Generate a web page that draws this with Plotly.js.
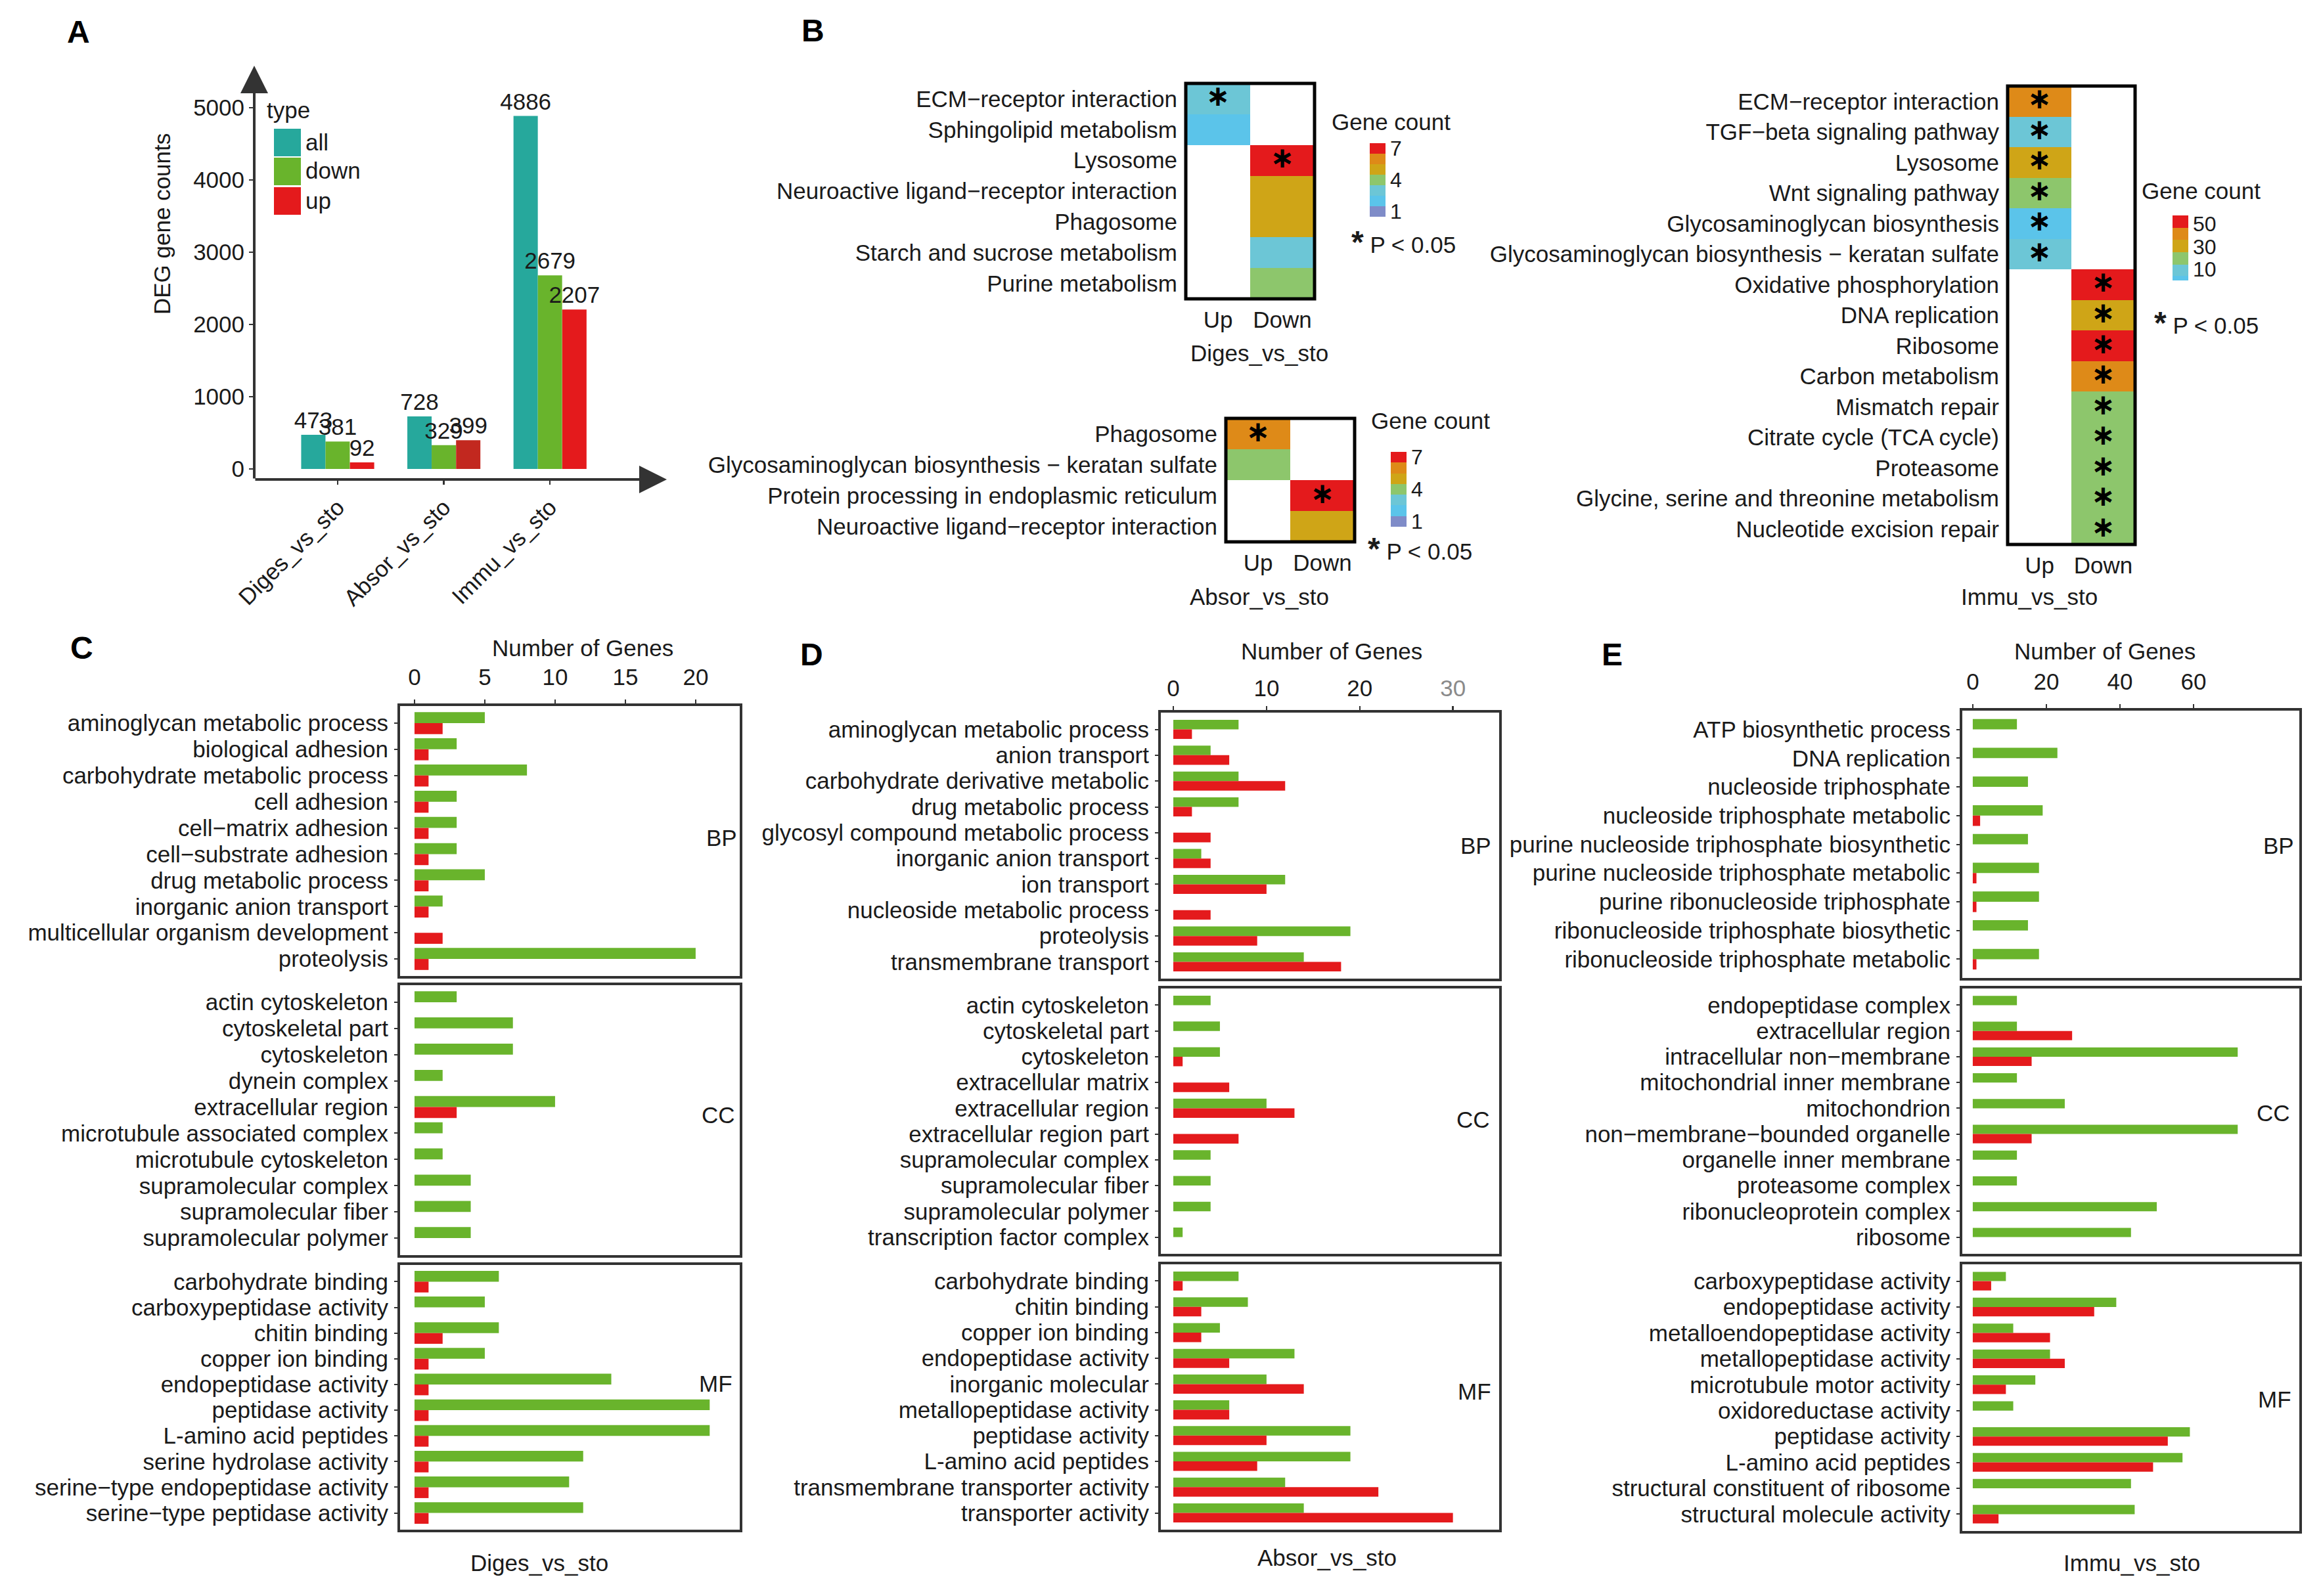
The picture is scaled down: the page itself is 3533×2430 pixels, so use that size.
<!DOCTYPE html>
<html><head><meta charset="utf-8">
<script src="https://cdn.plot.ly/plotly-3.0.1.min.js"></script>
<style>html,body{margin:0;padding:0;background:#fff}</style>
</head><body><div id="chart" style="width:3533px;height:2430px"></div>
<script>
// ================= DATA =================
// Panel A: DEG counts
const comparisons = ['Diges_vs_sto', 'Absor_vs_sto', 'Immu_vs_sto'];
const degAll  = [473, 728, 4886];
const degDown = [381, 329, 2679];
const degUp   = [92, 399, 2207];
const degTypes = ['all', 'down', 'up'];

// Panel B: KEGG heatmaps (gene counts, null = not enriched)
const heatCols = ['Up', 'Down'];
const keggDigesTerms = ['ECM\u2212receptor interaction', 'Sphingolipid metabolism', 'Lysosome',
  'Neuroactive ligand\u2212receptor interaction', 'Phagosome', 'Starch and sucrose metabolism', 'Purine metabolism'];
const keggDigesUp      = [3, 2, null, null, null, null, null];
const keggDigesDown    = [null, null, 7, 5, 5, 3, 4];
const keggDigesUpSig   = [1, 0, 0, 0, 0, 0, 0];
const keggDigesDownSig = [0, 0, 1, 0, 0, 0, 0];

const keggAbsorTerms = ['Phagosome', 'Glycosaminoglycan biosynthesis \u2212 keratan sulfate',
  'Protein processing in endoplasmic reticulum', 'Neuroactive ligand\u2212receptor interaction'];
const keggAbsorUp      = [6, 4, null, null];
const keggAbsorDown    = [null, null, 7, 5];
const keggAbsorUpSig   = [1, 0, 0, 0];
const keggAbsorDownSig = [0, 0, 1, 0];

const keggImmuTerms = ['ECM\u2212receptor interaction', 'TGF\u2212beta signaling pathway', 'Lysosome',
  'Wnt signaling pathway', 'Glycosaminoglycan biosynthesis', 'Glycosaminoglycan biosynthesis \u2212 keratan sulfate',
  'Oxidative phosphorylation', 'DNA replication', 'Ribosome', 'Carbon metabolism', 'Mismatch repair',
  'Citrate cycle (TCA cycle)', 'Proteasome', 'Glycine, serine and threonine metabolism', 'Nucleotide excision repair'];
const keggImmuUp      = [40, 10, 30, 20, 2, 9, null, null, null, null, null, null, null, null, null];
const keggImmuDown    = [null, null, null, null, null, null, 52, 30, 55, 40, 18, 20, 20, 16, 18];
const keggImmuUpSig   = [1, 1, 1, 1, 1, 1, 0, 0, 0, 0, 0, 0, 0, 0, 0];
const keggImmuDownSig = [0, 0, 0, 0, 0, 0, 1, 1, 1, 1, 1, 1, 1, 1, 1];

// Panel C: GO Diges_vs_sto
const goDigesBPTerms = ['aminoglycan metabolic process', 'biological adhesion', 'carbohydrate metabolic process',
  'cell adhesion', 'cell\u2212matrix adhesion', 'cell\u2212substrate adhesion', 'drug metabolic process',
  'inorganic anion transport', 'multicellular organism development', 'proteolysis'];
const goDigesBPDown = [5, 3, 8, 3, 3, 3, 5, 2, 0, 20];
const goDigesBPUp   = [2, 1, 1, 1, 1, 1, 1, 1, 2, 1];
const goDigesCCTerms = ['actin cytoskeleton', 'cytoskeletal part', 'cytoskeleton', 'dynein complex',
  'extracellular region', 'microtubule associated complex', 'microtubule cytoskeleton',
  'supramolecular complex', 'supramolecular fiber', 'supramolecular polymer'];
const goDigesCCDown = [3, 7, 7, 2, 10, 2, 2, 4, 4, 4];
const goDigesCCUp   = [0, 0, 0, 0, 3, 0, 0, 0, 0, 0];
const goDigesMFTerms = ['carbohydrate binding', 'carboxypeptidase activity', 'chitin binding', 'copper ion binding',
  'endopeptidase activity', 'peptidase activity', 'L-amino acid peptides', 'serine hydrolase activity',
  'serine\u2212type endopeptidase activity', 'serine\u2212type peptidase activity'];
const goDigesMFDown = [6, 5, 6, 5, 14, 21, 21, 12, 11, 12];
const goDigesMFUp   = [1, 0, 2, 1, 1, 1, 1, 1, 1, 1];
const goDigesTicks = [0, 5, 10, 15, 20];

// Panel D: GO Absor_vs_sto
const goAbsorBPTerms = ['aminoglycan metabolic process', 'anion transport', 'carbohydrate derivative metabolic',
  'drug metabolic process', 'glycosyl compound metabolic process', 'inorganic anion transport', 'ion transport',
  'nucleoside metabolic process', 'proteolysis', 'transmembrane transport'];
const goAbsorBPDown = [7, 4, 7, 7, 0, 3, 12, 0, 19, 14];
const goAbsorBPUp   = [2, 6, 12, 2, 4, 4, 10, 4, 9, 18];
const goAbsorCCTerms = ['actin cytoskeleton', 'cytoskeletal part', 'cytoskeleton', 'extracellular matrix',
  'extracellular region', 'extracellular region part', 'supramolecular complex', 'supramolecular fiber',
  'supramolecular polymer', 'transcription factor complex'];
const goAbsorCCDown = [4, 5, 5, 0, 10, 0, 4, 4, 4, 1];
const goAbsorCCUp   = [0, 0, 1, 6, 13, 7, 0, 0, 0, 0];
const goAbsorMFTerms = ['carbohydrate binding', 'chitin binding', 'copper ion binding', 'endopeptidase activity',
  'inorganic molecular', 'metallopeptidase activity', 'peptidase activity', 'L-amino acid peptides',
  'transmembrane transporter activity', 'transporter activity'];
const goAbsorMFDown = [7, 8, 5, 13, 10, 6, 19, 19, 12, 14];
const goAbsorMFUp   = [1, 3, 3, 6, 14, 6, 10, 9, 22, 30];
const goAbsorTicks = [0, 10, 20, 30];

// Panel E: GO Immu_vs_sto
const goImmuBPTerms = ['ATP biosynthetic process', 'DNA replication', 'nucleoside triphosphate',
  'nucleoside triphosphate metabolic', 'purine nucleoside triphosphate biosynthetic',
  'purine nucleoside triphosphate metabolic', 'purine ribonucleoside triphosphate',
  'ribonucleoside triphosphate biosythetic', 'ribonucleoside triphosphate metabolic'];
const goImmuBPDown = [12, 23, 15, 19, 15, 18, 18, 15, 18];
const goImmuBPUp   = [0, 0, 0, 2, 0, 1, 1, 0, 1];
const goImmuCCTerms = ['endopeptidase complex', 'extracellular region', 'intracellular non\u2212membrane',
  'mitochondrial inner membrane', 'mitochondrion', 'non\u2212membrane\u2212bounded organelle',
  'organelle inner membrane', 'proteasome complex', 'ribonucleoprotein complex', 'ribosome'];
const goImmuCCDown = [12, 12, 72, 12, 25, 72, 12, 12, 50, 43];
const goImmuCCUp   = [0, 27, 16, 0, 0, 16, 0, 0, 0, 0];
const goImmuMFTerms = ['carboxypeptidase activity', 'endopeptidase activity', 'metalloendopeptidase activity',
  'metallopeptidase activity', 'microtubule motor activity', 'oxidoreductase activity', 'peptidase activity',
  'L-amino acid peptides', 'structural constituent of ribosome', 'structural molecule activity'];
const goImmuMFDown = [9, 39, 11, 21, 17, 11, 59, 57, 43, 44];
const goImmuMFUp   = [5, 33, 21, 25, 9, 0, 53, 49, 0, 7];
const goImmuTicks = [0, 20, 40, 60];

// ================= STYLE / LAYOUT HELPERS =================
const W = 3533, H = 2430;
const X = p => p / W;
const Y = p => 1 - p / H;
const xd = (a, b) => [X(a), X(b)];
const yd = (top, bot) => [Y(bot), Y(top)];
const FONT = 'Liberation Sans, Arial, Helvetica, sans-serif';
const TXT = '#1a1a1a';
const AX = '#333333';
const TEAL = '#26A89C', GREEN = '#69B42C', RED = '#E41A1C', DARKRED = '#C2281F';
const FS = 35;

const traces = [];
const layout = {
  width: W, height: H, autosize: false,
  margin: {l: 0, r: 0, t: 0, b: 0, pad: 0},
  paper_bgcolor: '#ffffff', plot_bgcolor: 'rgba(0,0,0,0)',
  font: {family: FONT, size: FS, color: TXT},
  barmode: 'overlay', showlegend: false,
  annotations: [], shapes: []
};
const ann = (text, x, y, o = {}) => layout.annotations.push(Object.assign({
  text, x: X(x), y: Y(y), xref: 'paper', yref: 'paper', showarrow: false,
  font: {family: FONT, size: FS, color: TXT}, xanchor: 'center', yanchor: 'middle'}, o));

// ---------- Panel A ----------
const aW = 0.229;
const aOff = [-0.344, -0.115, 0.115];
const aVals = [degAll, degDown, degUp];
const aCols = [TEAL, GREEN, [RED, DARKRED, RED]];
aVals.forEach((v, k) => traces.push({
  type: 'bar', name: degTypes[k], x: comparisons, y: v, xaxis: 'x', yaxis: 'y',
  width: aW, offset: aOff[k], marker: {color: aCols[k], line: {width: 0}},
  text: v.map(String), textposition: 'outside', constraintext: 'none', cliponaxis: false,
  textfont: {family: FONT, size: FS, color: TXT}, hoverinfo: 'x+y'
}));
layout.xaxis = {domain: xd(387, 1015), anchor: 'y', type: 'category', categoryarray: comparisons,
  range: [-0.786, 3.10], tickangle: -45, ticks: 'outside', ticklen: 7, tickwidth: 2.5, tickcolor: AX,
  tickfont: {size: FS}, showline: false, showgrid: false, zeroline: false};
layout.yaxis = {domain: yd(100, 730), anchor: 'x', range: [-145, 5582],
  tickvals: [0, 1000, 2000, 3000, 4000, 5000], ticks: 'outside', ticklen: 7, tickwidth: 2.5, tickcolor: AX,
  tickfont: {size: FS}, showline: false, showgrid: false, zeroline: false};
// axis arrows
layout.annotations.push({text: '', xref: 'paper', yref: 'paper', x: X(1015), y: Y(730),
  axref: 'pixel', ayref: 'pixel', ax: -628, ay: 0, showarrow: true, arrowhead: 2, arrowsize: 2.1,
  arrowwidth: 4, arrowcolor: AX, standoff: 0});
layout.annotations.push({text: '', xref: 'paper', yref: 'paper', x: X(387), y: Y(100),
  axref: 'pixel', ayref: 'pixel', ax: 0, ay: 630, showarrow: true, arrowhead: 2, arrowsize: 2.1,
  arrowwidth: 4, arrowcolor: AX, standoff: 0});
ann('DEG gene counts', 246, 341, {textangle: -90});
// legend
ann('type', 404, 167, {xanchor: 'left'});
const legTop = [196, 240, 285];
const legFill = [TEAL, GREEN, RED];
degTypes.forEach((t, k) => {
  layout.shapes.push({type: 'rect', xref: 'paper', yref: 'paper', x0: X(417), x1: X(458),
    y0: Y(legTop[k] + 42), y1: Y(legTop[k]), fillcolor: legFill[k], line: {width: 0}});
  ann(t, 463, legTop[k] + 20, {xanchor: 'left'});
});

// ---------- Panel B heatmaps ----------
function stepScale(bounds, colors) {
  const lo = bounds[0], hi = bounds[bounds.length - 1];
  const s = [];
  colors.forEach((c, i) => {
    s.push([(bounds[i] - lo) / (hi - lo), c]);
    s.push([(bounds[i + 1] - lo) / (hi - lo), c]);
  });
  return s;
}
const PURP = '#7F8CC8', SKY = '#5BC4EA', CYAN = '#6CC6D6', LGREEN = '#8DC66C', GOLD = '#CFA517', ORNG = '#DE8A18';
const scale7 = stepScale([0.5, 1.5, 2.5, 3.5, 4.5, 5.5, 6.5, 7.5], [PURP, SKY, CYAN, LGREEN, GOLD, ORNG, RED]);
const scaleImmu = stepScale([0, 4, 14, 25, 36, 46.5, 57.5], [SKY, CYAN, LGREEN, GOLD, ORNG, RED]);

function heatPanel(n, terms, up, down, upSig, downSig, cs, zmin, zmax, cbTicks, box, cb) {
  const xa = 'x' + n, ya = 'y' + n;
  traces.push({type: 'heatmap', x: heatCols, y: terms, z: terms.map((t, i) => [up[i], down[i]]),
    xaxis: xa, yaxis: ya, colorscale: cs, zmin, zmax, hoverongaps: false,
    colorbar: {x: X(cb.x), xanchor: 'left', y: Y(cb.top), yanchor: 'top', len: cb.len, lenmode: 'pixels',
      thickness: 24, thicknessmode: 'pixels', xpad: 0, ypad: 0, outlinewidth: 0, ticks: '',
      tickvals: cbTicks, tickfont: {family: FONT, size: 32, color: TXT}}});
  const sx = [], sy = [];
  terms.forEach((t, i) => {
    if (upSig[i]) { sx.push('Up'); sy.push(t); }
    if (downSig[i]) { sx.push('Down'); sy.push(t); }
  });
  traces.push({type: 'scatter', mode: 'text', x: sx, y: sy, text: sx.map(() => '\u2217'),
    textposition: 'middle center',
    textfont: {family: 'DejaVu Sans, ' + FONT, size: 44, weight: 'bold', color: '#000'},
    xaxis: xa, yaxis: ya, hoverinfo: 'skip', cliponaxis: false});
  layout['xaxis' + n] = {domain: xd(box.l, box.r), anchor: ya, type: 'category', categoryarray: heatCols,
    range: [-0.5, 1.5], ticks: '', showline: false, showgrid: false, zeroline: false,
    tickfont: {size: FS}, ticklabelstandoff: 8};
  layout['yaxis' + n] = {domain: yd(box.t, box.b), anchor: xa, type: 'category', categoryarray: terms,
    tickmode: 'array', tickvals: terms, ticktext: terms,
    range: [terms.length - 0.5, -0.5], ticks: '', showline: false, showgrid: false, zeroline: false,
    tickfont: {size: FS}, ticklabelstandoff: 12};
  layout.shapes.push({type: 'rect', xref: xa + ' domain', yref: ya + ' domain', x0: 0, x1: 1, y0: 0, y1: 1,
    line: {color: '#000', width: 5}, fillcolor: 'rgba(0,0,0,0)'});
}
heatPanel(2, keggDigesTerms, keggDigesUp, keggDigesDown, keggDigesUpSig, keggDigesDownSig,
  scale7, 0.5, 7.5, [1, 4, 7], {l: 1805, r: 2001, t: 127, b: 455}, {x: 2085, top: 218, len: 112});
heatPanel(3, keggAbsorTerms, keggAbsorUp, keggAbsorDown, keggAbsorUpSig, keggAbsorDownSig,
  scale7, 0.5, 7.5, [1, 4, 7], {l: 1866, r: 2062, t: 637, b: 825}, {x: 2117, top: 688, len: 114});
heatPanel(4, keggImmuTerms, keggImmuUp, keggImmuDown, keggImmuUpSig, keggImmuDownSig,
  scaleImmu, 0, 57.5, [10, 30, 50], {l: 3056, r: 3250, t: 131, b: 829}, {x: 3307, top: 328, len: 99});

ann('Gene count', 2025, 186, {xanchor: 'left'});
ann('Gene count', 2085, 640, {xanchor: 'left'});
ann('Gene count', 3258, 290, {xanchor: 'left'});
const pStar = '<span style="font-size:48px"><b>*</b></span> P < 0.05';
ann(pStar, 2055, 368, {xanchor: 'left'});
ann(pStar, 2080, 835, {xanchor: 'left'});
ann(pStar, 3277, 491, {xanchor: 'left'});
ann('Diges_vs_sto', 1917, 537);
ann('Absor_vs_sto', 1917, 908);
ann('Immu_vs_sto', 3089, 908);

// ---------- Panels C, D, E ----------
function goPanel(xn, yns, facets, xbox, ybox, range, ticks, ticktext, bw, standoff) {
  const xa = 'x' + xn;
  layout['xaxis' + xn] = {domain: xd(xbox[0], xbox[1]), anchor: 'y' + yns[0], side: 'top', range,
    tickmode: 'array', tickvals: ticks, ticktext: ticktext, ticks: 'outside', ticklen: 7, tickwidth: 2.5,
    tickcolor: AX, tickfont: {size: FS}, showline: false, showgrid: false, zeroline: false,
    ticklabelstandoff: standoff};
  facets.forEach((f, k) => {
    const ya = 'y' + yns[k];
    const n = f.terms.length;
    layout['yaxis' + yns[k]] = {domain: yd(ybox[k][0], ybox[k][1]), anchor: xa, type: 'category',
      categoryarray: f.terms, tickmode: 'array', tickvals: f.terms, ticktext: f.terms,
      range: [n - 1 + 0.7, -0.7], ticks: 'outside', ticklen: 6, tickwidth: 2,
      tickcolor: AX, tickfont: {size: FS}, showline: false, showgrid: false, zeroline: false,
      ticklabelstandoff: 2};
    traces.push({type: 'bar', orientation: 'h', name: 'down', y: f.terms, x: f.down, xaxis: xa, yaxis: ya,
      width: bw, offset: -bw, marker: {color: GREEN, line: {width: 0}}});
    traces.push({type: 'bar', orientation: 'h', name: 'up', y: f.terms, x: f.up, xaxis: xa, yaxis: ya,
      width: bw, offset: 0, marker: {color: RED, line: {width: 0}}});
    layout.shapes.push({type: 'rect', xref: xa + ' domain', yref: ya + ' domain', x0: 0, x1: 1, y0: 0, y1: 1,
      line: {color: AX, width: 4}, fillcolor: 'rgba(0,0,0,0)'});
  });
}
goPanel(5, [5, 6, 7], [
  {terms: goDigesBPTerms, down: goDigesBPDown, up: goDigesBPUp},
  {terms: goDigesCCTerms, down: goDigesCCDown, up: goDigesCCUp},
  {terms: goDigesMFTerms, down: goDigesMFDown, up: goDigesMFUp}],
  [607, 1128], [[1073, 1488], [1498, 1913], [1924, 2331]], [-1.12, 23.23],
  goDigesTicks, goDigesTicks.map(String), 0.42, 8);
goPanel(6, [8, 9, 10], [
  {terms: goAbsorBPTerms, down: goAbsorBPDown, up: goAbsorBPUp},
  {terms: goAbsorCCTerms, down: goAbsorCCDown, up: goAbsorCCUp},
  {terms: goAbsorMFTerms, down: goAbsorMFDown, up: goAbsorMFUp}],
  [1765, 2284], [[1083, 1492], [1503, 1911], [1923, 2331]], [-1.48, 35.1],
  goAbsorTicks, goAbsorTicks.map((t, i) => i === goAbsorTicks.length - 1 ? '<span style="color:#8a8a8a">' + t + '</span>' : String(t)), 0.37, 1);
goPanel(7, [11, 12, 13], [
  {terms: goImmuBPTerms, down: goImmuBPDown, up: goImmuBPUp},
  {terms: goImmuCCTerms, down: goImmuCCDown, up: goImmuCCUp},
  {terms: goImmuMFTerms, down: goImmuMFDown, up: goImmuMFUp}],
  [2985, 3502], [[1080, 1491], [1503, 1911], [1923, 2333]], [-3.2, 89.1],
  goImmuTicks, goImmuTicks.map(String), 0.36, 8);

ann('Number of Genes', 887, 986);
ann('Number of Genes', 2027, 991);
ann('Number of Genes', 3204, 991);
ann('Diges_vs_sto', 821, 2379);
ann('Absor_vs_sto', 2020, 2371);
ann('Immu_vs_sto', 3245, 2379);
[['BP', 1098, 1275], ['CC', 1093, 1697], ['MF', 1089, 2106],
 ['BP', 2246, 1287], ['CC', 2242, 1704], ['MF', 2244, 2118],
 ['BP', 3468, 1287], ['CC', 3460, 1694], ['MF', 3462, 2130]].forEach(a => ann(a[0], a[1], a[2]));

// panel letters
[['A', 119, 49], ['B', 1237, 46], ['C', 124, 986], ['D', 1235, 996], ['E', 2454, 996]].forEach(a =>
  ann('<b>' + a[0] + '</b>', a[1], a[2], {font: {family: FONT, size: 48, color: '#000'}}));

Plotly.newPlot('chart', traces, layout, {displayModeBar: false, staticPlot: true});
</script>
</body></html>
